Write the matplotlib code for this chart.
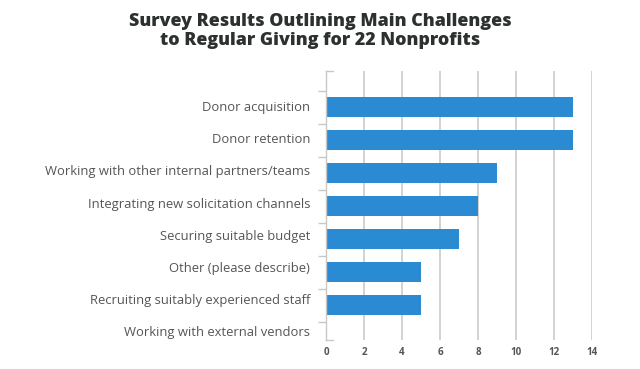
import matplotlib
matplotlib.use("Agg")
import matplotlib.pyplot as plt
import numpy as np

categories = [
    "Donor acquisition",
    "Donor retention",
    "Working with other internal partners/teams",
    "Integrating new solicitation channels",
    "Securing suitable budget",
    "Other (please describe)",
    "Recruiting suitably experienced staff",
    "Working with external vendors",
]
values = [13, 13, 9, 8, 7, 5, 5, 0]
x_ticks = [0, 2, 4, 6, 8, 10, 12, 14]
title = "Survey Results Outlining Main Challenges\nto Regular Giving for 22 Nonprofits"

fig = plt.figure(figsize=(6.4, 3.69), dpi=100)
ax = fig.add_axes([326/640, 1-340/369, 266/640, 269/369])

n = len(categories)
pos = np.arange(n)
ax.barh(pos, values, height=0.58, color="#2a8bd3", zorder=3)

ax.set_xlim(0, 14)
ax.set_ylim(7.06, -1.091)
ax.set_xticks(x_ticks)
ax.set_xticklabels([str(t) for t in x_ticks], fontsize=7, color="#555555",
                   fontfamily="Open Sans", fontweight="bold")
ax.tick_params(axis="x", length=0, pad=5)

lab_pos = pos * 0.976 - 0.03
ax.set_yticks(lab_pos)
ax.set_yticklabels(categories, fontsize=9.4, color="#555555", fontfamily="Open Sans")
ax.tick_params(axis="y", length=0, pad=11.5)
ax.set_yticks(pos - 0.5, minor=True)
ax.tick_params(axis="y", which="minor", length=6, width=1, color="#c8c8c8", direction="out")

ax.grid(axis="x", color="#cfcfcf", linewidth=1.3, zorder=0)
for s in ["top", "right", "bottom"]:
    ax.spines[s].set_visible(False)
ax.spines["left"].set_color("#c8c8c8")
ax.spines["left"].set_linewidth(1)
ax.spines["left"].set_zorder(4)
for yy in (0, 1):
    ax.plot([0, 0.027], [yy, yy], transform=ax.transAxes, color="#c8c8c8",
            linewidth=1, clip_on=False)

fig.text(0.5, 0.965, title, ha="center", va="top", fontsize=12.9,
         fontfamily="Open Sans", fontweight="heavy", color="#2d3030", linespacing=1.15)

fig.savefig("out.png", dpi=100)
